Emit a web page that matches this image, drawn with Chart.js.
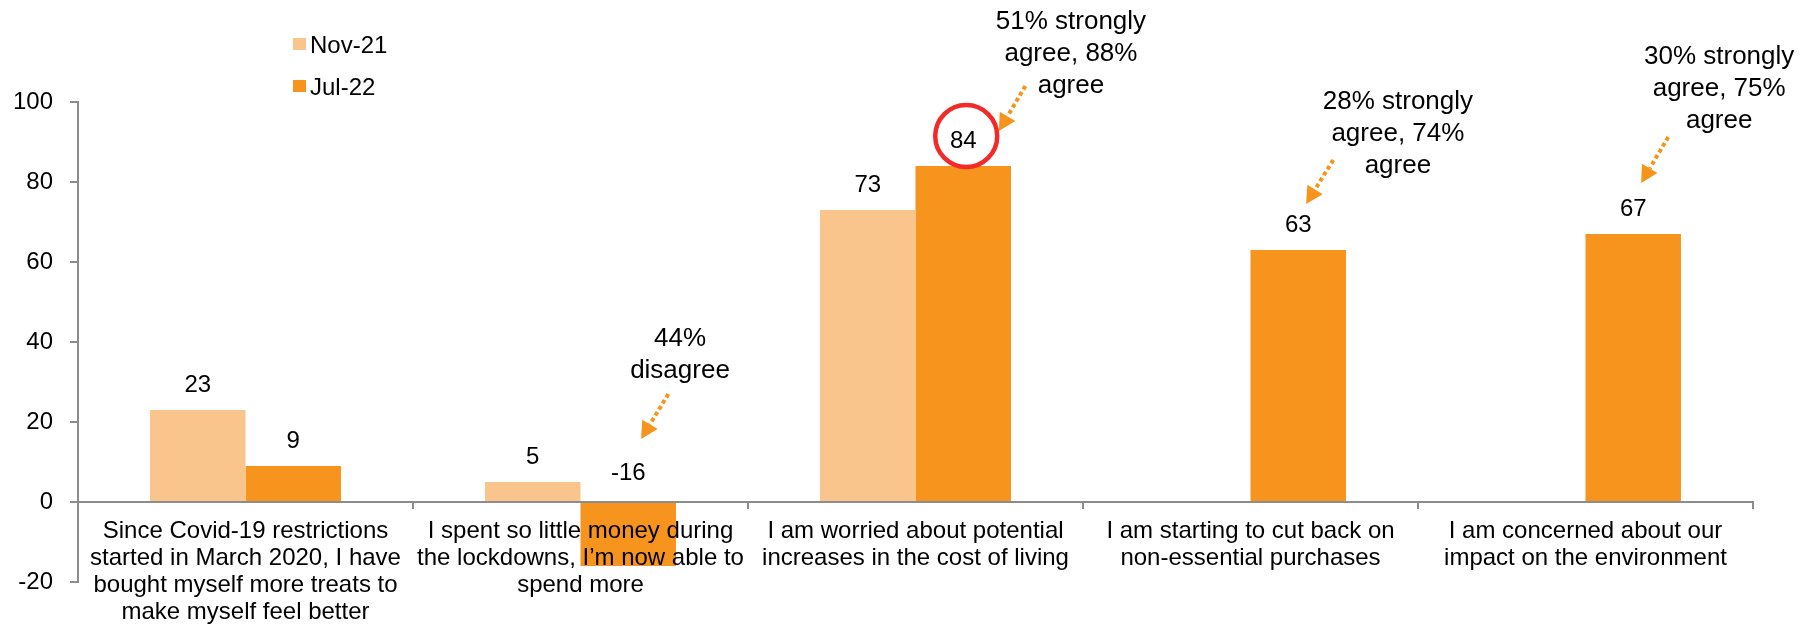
<!DOCTYPE html>
<html><head><meta charset="utf-8">
<script src="https://cdn.jsdelivr.net/npm/chart.js@4/dist/chart.umd.min.js"></script>
<style>html,body{margin:0;padding:0;background:#fff;}#wrap{width:1804px;height:624px;position:relative;}</style>
</head><body>
<div id="wrap"><canvas id="c" width="1804" height="624"></canvas></div>
<script>
// ---- data ----
const categories = [
  ["Since Covid-19 restrictions","started in March 2020, I have","bought myself more treats to","make myself feel better"],
  ["I spent so little money during","the lockdowns, I\u2019m now able to","spend more"],
  ["I am worried about potential","increases in the cost of living"],
  ["I am starting to cut back on","non-essential purchases"],
  ["I am concerned about our","impact on the environment"]
];
const seriesNames = ["Nov-21", "Jul-22"];
const nov21 = [23, 5, 73, null, null];
const jul22 = [9, -16, 84, 63, 67];
const yMin = -20, yMax = 100, yStep = 20;
const noteTexts = [
  ["44%", "disagree"],
  ["51% strongly", "agree, 88%", "agree"],
  ["28% strongly", "agree, 74%", "agree"],
  ["30% strongly", "agree, 75%", "agree"]
];
const noteCategory = [1, 2, 3, 4];
const circledCategory = 2;

// ---- styles / layout ----
const FONT = '"Liberation Sans", Arial, sans-serif';
const C_NOV = '#FAC58C';
const C_JUL = '#F7941D';
const AXIS = '#8C8C8C';
// annotation placement (fractional category index, value units)
const notePos = [
  {tx: 1.297, ty: 40.75, ax0: 1.262, ay0: 27,   ax1: 1.181, ay1: 15.75},
  {tx: 2.464, ty: 120,   ax0: 2.328, ay0: 104,  ax1: 2.249, ay1: 92.75},
  {tx: 3.440, ty: 100,   ax0: 3.247, ay0: 85.5, ax1: 3.166, ay1: 74.5},
  {tx: 4.399, ty: 111.25,ax0: 4.247, ay0: 91.25,ax1: 4.166, ay1: 79.75}
];

function arrow(ctx, x0, y0, x1, y1) {
  const ang = Math.atan2(y1 - y0, x1 - x0);
  const head = 17, hw = 9;
  const bx = x1 - head * Math.cos(ang), by = y1 - head * Math.sin(ang);
  ctx.save();
  ctx.strokeStyle = C_JUL; ctx.fillStyle = C_JUL;
  ctx.lineWidth = 4; ctx.setLineDash([4, 3]);
  ctx.beginPath(); ctx.moveTo(x0, y0); ctx.lineTo(bx, by); ctx.stroke();
  ctx.setLineDash([]);
  ctx.beginPath();
  ctx.moveTo(x1, y1);
  ctx.lineTo(bx + hw * Math.sin(ang), by - hw * Math.cos(ang));
  ctx.lineTo(bx - hw * Math.sin(ang), by + hw * Math.cos(ang));
  ctx.closePath(); ctx.fill();
  ctx.restore();
}

const overlay = {
  id: 'overlay',
  afterDraw(chart) {
    const ctx = chart.ctx;
    const xs = chart.scales.x, ys = chart.scales.y;
    ctx.save();
    ctx.fillStyle = '#000';
    ctx.font = '24px ' + FONT;
    ctx.textAlign = 'center';
    ctx.textBaseline = 'middle';
    // value labels
    chart.data.datasets.forEach((ds, di) => {
      const meta = chart.getDatasetMeta(di);
      ds.data.forEach((v, i) => {
        if (v === null || v === undefined) return;
        const el = meta.data[i];
        const base = ys.getPixelForValue(Math.max(v, 0));
        const y = base - (v < 0 ? 29 : 25);
        ctx.fillText(String(v), el.x, y);
        if (di === 1 && i === circledCategory) {
          ctx.save();
          ctx.strokeStyle = '#F42A2A'; ctx.lineWidth = 4.5;
          ctx.beginPath(); ctx.arc(el.x + 3, y - 5, 31, 0, Math.PI * 2); ctx.stroke();
          ctx.restore();
        }
      });
    });
    // annotations
    ctx.font = '26px ' + FONT;
    noteTexts.forEach((lines, k) => {
      const p = notePos[k];
      const x = xs.getPixelForValue(p.tx);
      const y0 = ys.getPixelForValue(p.ty);
      lines.forEach((t, j) => ctx.fillText(t, x, y0 + j * 32));
      arrow(ctx, xs.getPixelForValue(p.ax0), ys.getPixelForValue(p.ay0),
                 xs.getPixelForValue(p.ax1), ys.getPixelForValue(p.ay1));
    });
    // legend
    ctx.font = '24px ' + FONT;
    ctx.textAlign = 'left';
    chart.data.datasets.forEach((ds, di) => {
      const cy = 45 + di * 42;
      ctx.fillStyle = ds.backgroundColor;
      ctx.fillRect(293, cy - 7, 13, 12);
      ctx.fillStyle = '#000';
      ctx.fillText(ds.label, 310, cy + 1);
    });
    ctx.restore();
  }
};

new Chart(document.getElementById('c'), {
  type: 'bar',
  data: {
    labels: categories,
    datasets: [
      {label: seriesNames[0], data: nov21, backgroundColor: C_NOV},
      {label: seriesNames[1], data: jul22, backgroundColor: C_JUL}
    ]
  },
  options: {
    responsive: false,
    animation: false,
    devicePixelRatio: 1,
    categoryPercentage: 0.57,
    barPercentage: 1.0,
    layout: {padding: {top: 102, right: 51, bottom: 42, left: 0}},
    plugins: {legend: {display: false}, tooltip: {enabled: false}},
    scales: {
      x: {
        position: {y: 0},
        afterFit(s) { s.height = 0; },
        grid: {drawOnChartArea: false, drawTicks: true, tickLength: 6, color: AXIS, lineWidth: 2, offset: true},
        border: {display: true, color: AXIS, width: 2},
        ticks: {z: 1, color: '#000', font: {family: FONT, size: 24, lineHeight: 1.125}, padding: 10,
                maxRotation: 0, minRotation: 0, autoSkip: false}
      },
      y: {
        min: yMin, max: yMax,
        afterFit(s) { s.width = 78; },
        grid: {drawOnChartArea: false, drawTicks: true, tickLength: 8, color: AXIS, lineWidth: 2},
        border: {display: true, color: AXIS, width: 2},
        ticks: {stepSize: yStep, color: '#000', font: {family: FONT, size: 24}, padding: 17}
      }
    }
  },
  plugins: [overlay]
});
</script>
</body></html>
